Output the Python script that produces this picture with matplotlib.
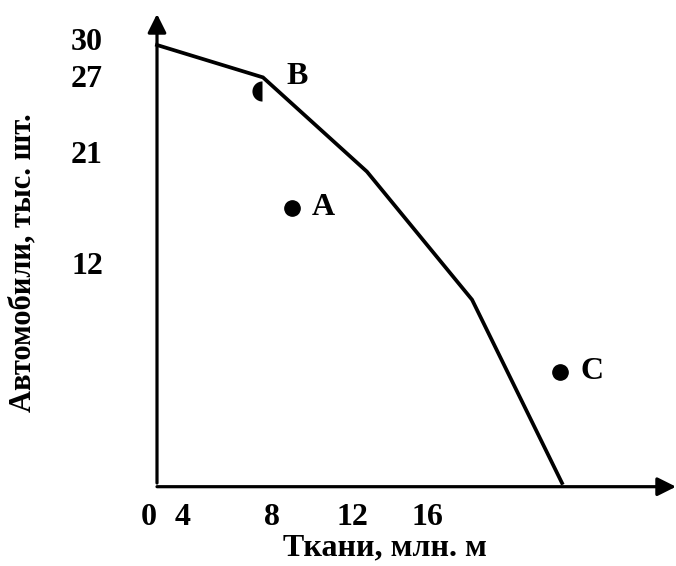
import matplotlib
matplotlib.use("Agg")
import matplotlib.pyplot as plt

# ---- data (in the drawing's own units) ----
frontier_x = [0.0, 6.28, 12.44, 18.67, 24.0]
frontier_y = [30.0, 27.8, 21.4, 12.7, 0.25]
point_b = (6.22, 26.9)
point_a = (7.98, 18.9)
point_c = (23.9, 7.77)
point_names = ["A", "B", "C"]

x_tick_labels = ["0", "4", "8", "12", "16"]
x_tick_pos = [-0.47, 1.54, 6.81, 11.6, 16.0]
y_tick_labels = ["30", "27", "21", "12"]
y_tick_pos = [30.4, 27.9, 22.7, 15.2]

x_label = "Ткани, млн. м"
y_label = "Автомобили, тыс. шт."

W, H = 676, 566
DPI = 100
FONT = "Liberation Serif"
FS = 23

fig = plt.figure(figsize=(W / DPI, H / DPI), dpi=DPI)
ox, oy = 157, 486.7   # origin in pixels (from top-left)
left_px = 120         # axes box left edge in pixels
ax = fig.add_axes([left_px / W, (H - oy) / H, (W - left_px) / W, (oy - 14) / H])
ax.set_facecolor("none")
kx = (562 - 157) / 24.0
ky = (486.7 - 45) / 30.0
XMIN = -(ox - left_px) / kx
XMAX = (W - ox) / kx
YMAX = (oy - 14) / ky
for s in ax.spines.values():
    s.set_visible(False)

# ticks (set before limits, since set_*ticks may expand the view)
ax.set_xticks(x_tick_pos, x_tick_labels)
ax.set_yticks(y_tick_pos, y_tick_labels)
ax.set_xlim(XMIN, XMAX)
ax.set_ylim(0, YMAX)
ax.tick_params(axis="both", length=0)
ax.tick_params(axis="x", pad=12)
ax.tick_params(axis="y", pad=(left_px - 103) * 0.72)
for lab in ax.get_xticklabels() + ax.get_yticklabels():
    lab.set_fontfamily(FONT)
    lab.set_fontweight("bold")
    lab.set_fontsize(FS)

# axes with arrows
ax.annotate("", xy=(XMAX, 0), xytext=(0, 0),
            arrowprops=dict(arrowstyle="-|>", lw=2.3, color="black",
                            shrinkA=0, shrinkB=0, mutation_scale=28),
            annotation_clip=False)
ax.annotate("", xy=(0, YMAX), xytext=(0, 0.25),
            arrowprops=dict(arrowstyle="-|>", lw=2.3, color="black",
                            shrinkA=0, shrinkB=0, mutation_scale=28),
            annotation_clip=False)

# frontier
ax.plot(frontier_x, frontier_y, color="black", lw=2.7, solid_joinstyle="miter",
        clip_on=False)

# points
ax.plot([point_a[0], point_c[0]], [point_a[1], point_c[1]], "o", color="black",
        ms=11, clip_on=False)
ax.plot([point_b[0]], [point_b[1]], "o", ms=14.5, fillstyle="left",
        markerfacecolor="black", markerfacecoloralt="none",
        markeredgewidth=0, clip_on=False)

tkw = dict(fontfamily=FONT, fontweight="bold", fontsize=FS, va="center",
           ha="center")
ax.text(point_a[0] + 1.85, point_a[1] + 0.05, point_names[0], **tkw)
ax.text(point_b[0] + 2.07, point_b[1] + 0.95, point_names[1], **tkw)
ax.text(point_c[0] + 1.85, point_c[1] + 0.05, point_names[2], **tkw)

ax.set_xlabel(x_label, fontfamily=FONT, fontweight="bold", fontsize=FS,
              va="center")
ax.set_ylabel(y_label, fontfamily=FONT, fontweight="bold", fontsize=22,
              va="center")
ax.xaxis.set_label_coords((385 - left_px) / (W - left_px), (oy - 548) / (oy - 14))
ax.yaxis.set_label_coords((23 - left_px) / (W - left_px), (oy - 263) / (oy - 14))

fig.savefig("out.png", dpi=DPI)
